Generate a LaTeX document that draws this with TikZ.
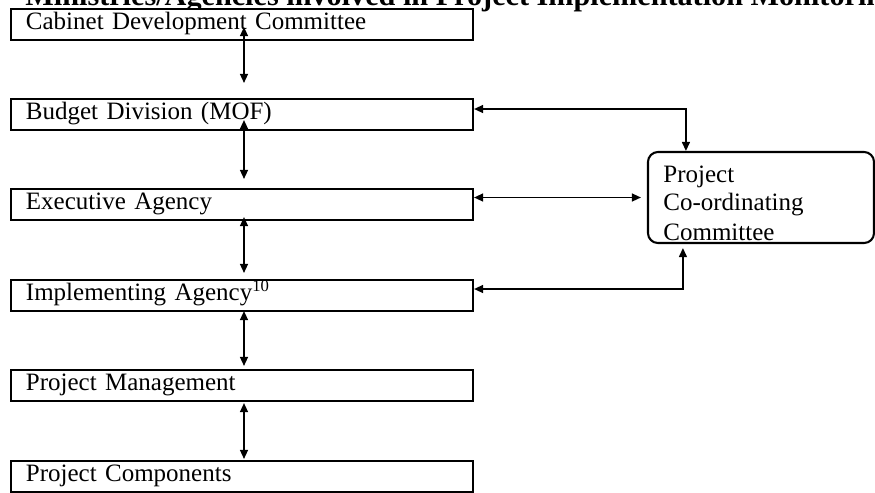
\documentclass[tikz,border=0pt]{standalone}
\usepackage{fontspec}
\setmainfont{Liberation Serif}
\usetikzlibrary{calc,arrows.meta}

\tikzset{
  % one unit = one pixel step of the layout grid, y grows downward
  level/.style={draw, line width=1pt, fill=white, rectangle,
    minimum height=14.9pt, inner xsep=7.2pt, inner ysep=0pt,
    text width=207.4pt, align=left, text height=8.4pt, text depth=3.6pt,
    font=\fontsize{12}{14}\selectfont},
  pccbox/.style={draw, line width=1pt, rounded corners=4.8pt,
    minimum width=108.5pt, minimum height=43.7pt, inner sep=0pt},
  pcctext/.style={anchor=base west, inner sep=0pt,
    font=\fontsize{12}{14}\selectfont},
  link/.style={line width=0.7pt,
    {Triangle[length=4.3pt,width=3.8pt]}-{Triangle[length=4.3pt,width=3.8pt]}},
}

\begin{document}
\begin{tikzpicture}[x=0.48pt, y=-0.48pt]
\useasboundingbox (0,0) rectangle (875,492);

% heading, partly above the page
\node[anchor=base west, inner sep=0pt, font=\fontsize{14.5}{17}\selectfont\bfseries]
  (title) at (25,5) {Ministries/Agencies involved in Project Implementation Monitoring};

% hierarchy of levels
\node[level] (cab) at (242,24.5)  {Cabinet Development Committee};
\node[level] (bud) at (242,114.5) {Budget Division (MOF)};
\node[level] (exe) at (242,204.5) {Executive Agency};
\node[level] (imp) at (242,295.5) {Implementing Agency\textsuperscript{10}};
\node[level] (pm)  at (242,385.5) {Project Management};
\node[level] (pc)  at (242,476.5) {Project Components};

% co-ordinating committee
\node[pccbox] (pcc) at (761,197.5) {};
\node[pcctext] (pcc1) at (663,182) {Project};
\node[pcctext] (pcc2) at (663,210) {Co-ordinating};
\node[pcctext] (pcc3) at (663,240) {Committee};

% vertical links between levels
\draw[link] ($(cab.south)+(2,-14)$) -- ($(bud.north)+(2,-15)$);
\draw[link] ($(bud.south)+(2,-11)$) -- ($(exe.north)+(2,-9)$);
\draw[link] ($(exe.south)+(2,-4)$)  -- ($(imp.north)+(2,-6)$);
\draw[link] ($(imp.south)+(2,-1)$)  -- ($(pm.north)+(2,-3)$);
\draw[link] ($(pm.south)+(2,1)$)    -- ($(pc.north)+(2,-1)$);

% links to the co-ordinating committee
\draw[link] ($(bud.east)+(0,-5.5)$) -| ($(pcc.north west)+(39,0)$);
\draw[link] (exe.east |- pcc.west) -- ($(pcc.west)+(-6,0)$);
\draw[link] ($(imp.east)+(0,-6.5)$) -| ($(pcc.south west)+(36,4)$);
\end{tikzpicture}
\end{document}
